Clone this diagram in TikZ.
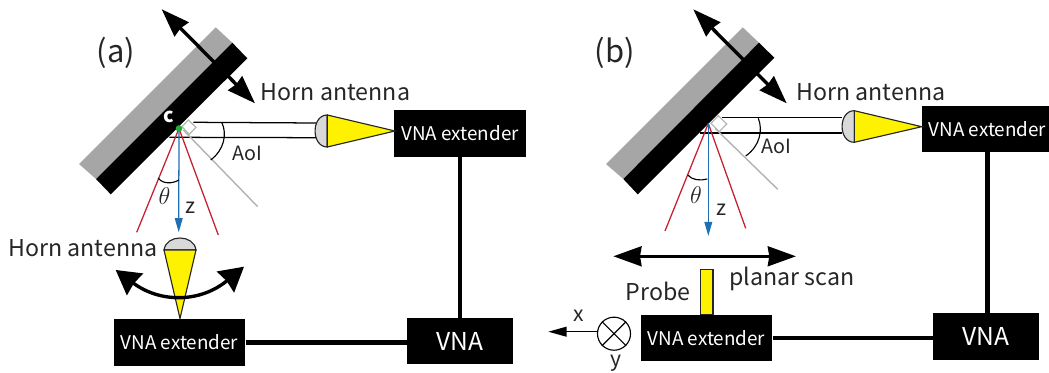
\documentclass[tikz,border=0pt]{standalone}
\usepackage{fontspec}
\setmainfont{Noto Sans CJK JP}
\usepackage{amsmath}
\usetikzlibrary{arrows.meta}

\definecolor{plategray}{HTML}{A6A6A6}
\definecolor{domegray}{HTML}{D9D9D9}
\definecolor{hornyellow}{HTML}{FFF200}
\definecolor{beamred}{HTML}{C4202F}
\definecolor{zblue}{HTML}{1F6FB5}
\definecolor{dotgreen}{HTML}{22AC38}

\tikzset{
  lab/.style={font=\fontsize{16.5}{20}\selectfont,text=black!85,inner sep=0pt},
  smalllab/.style={font=\fontsize{14}{17}\selectfont,text=black!85,inner sep=0pt},
  axislab/.style={font=\fontsize{15}{18}\selectfont,text=black!85,inner sep=0pt},
  panellab/.style={font=\fontsize{22}{26}\selectfont,text=black!85,inner sep=0pt},
  extbox/.style={fill=black,text=white,inner sep=0pt,minimum width=93.5pt,minimum height=33pt,font=\fontsize{13.4}{16}\selectfont},
  vnabox/.style={fill=black,text=white,inner sep=0pt,minimum width=75.5pt,minimum height=33pt,font=\fontsize{17.5}{21}\selectfont},
  wire/.style={line width=2.9pt},
  bigarrow/.style={line width=2.4pt,{Stealth[length=20pt,width=14pt,inset=1pt]}-{Stealth[length=20pt,width=14pt,inset=1pt]}},
  swingarrow/.style={line width=2.4pt,{Stealth[length=17pt,width=19pt,inset=1pt]}-{Stealth[length=17pt,width=19pt,inset=1pt]}},
  beam/.style={line width=.9pt},
  horn/.style={draw=black!85,line width=.8pt},
  redline/.style={draw=beamred,line width=.9pt},
  zarrow/.style={draw=zblue,line width=.9pt,-{Stealth[length=10pt,width=5.5pt,inset=0pt]}},
  grayline/.style={draw=black!30,line width=1pt},
  anglearc/.style={line width=.8pt}
}

\begin{document}
\begin{tikzpicture}[x=.025cm,y=-.025cm]
\useasboundingbox (0,0) rectangle (1049,373);

% panel a
\node[panellab] (tagA) at (116,53) {(a)};
\fill[plategray] (215.7,27.3)--(232.3,42.7)--(96,179)--(79,164)--cycle;
\coordinate (aUp) at (161.7,9.3);
\coordinate (aDown) at (255,103.3);
\draw[bigarrow] (aUp)--(aDown);
\fill[black] (232.3,42.7)--(247.3,58.3)--(110.7,194.3)--(96,179)--cycle;

\node[extbox] (extA) at (460,133.5) {VNA extender};
\node[vnabox] (vnaA) at (460,341) {VNA};
\node[extbox] (extAb) at (179.5,342.5) {VNA extender};
\draw[wire] (extA.south)--(vnaA.north);
\draw[wire] (extAb.east)--(extAb.east-|vnaA.west);

\coordinate (cA) at (179,128.5);
\draw[beam] (193.3,122.3)--(316.7,123);
\draw[beam] (169.3,137.3)--(316.7,137.7);
\draw[grayline] (183.3,130)--(257.7,206.7);
\draw[horn,fill=white,draw=black!30] (188.3,120)--(196,127.3)--(189.3,134.3)--(182,126.7)--cycle;
\draw[redline] (cA)--(136.7,232.3);
\draw[redline] (cA)--(218.3,235);
\coordinate (zA) at (178.7,232.3);
\draw[zarrow] (cA)--(zA);
\fill[dotgreen] (cA) circle (3.3);
\node[font=\fontsize{14}{16}\selectfont\bfseries,text=white,inner sep=0pt] (cLab) at (169,116.5) {c};
\draw[anglearc] (221.7,122.3) .. controls (227.5,134) and (224,150) .. (210.7,160);
\draw[anglearc] (158.3,178.3) .. controls (163,184) and (172,184) .. (179,180);
\node[smalllab] (aoiA) at (247.7,153.3) {AoI};
\node[font=\fontsize{16.5}{20}\selectfont,text=black!85,inner sep=0pt] (thetaA) at (164.5,196.5) {$\theta$};
\node[axislab] (zLabA) at (190.7,207.3) {z};

\draw[horn,fill=domegray] (327.3,115) .. controls (311,115) and (311,147) .. (327.3,147)--cycle;
\draw[horn,fill=hornyellow] (327.3,115)--(395,131)--(327.3,147)--cycle;
\node[lab] (hornA) at (335.5,92) {Horn antenna};

\draw[horn,fill=domegray] (164,250) .. controls (166,234) and (194,234) .. (196,250)--cycle;
\draw[horn,fill=hornyellow] (164,250)--(196,250)--(180,318.5)--cycle;
\node[lab] (hornAb) at (83,248) {Horn antenna};
\coordinate (swingL) at (115.7,270);
\coordinate (swingR) at (244,266.7);
\draw[swingarrow] (swingL) .. controls (160,303) and (200,303) .. (swingR);

% panel b
\node[panellab] (tagB) at (615,53) {(b)};
\fill[plategray] (742.7,27.3)--(759,42.7)--(623.3,179)--(606,164)--cycle;
\coordinate (bUp) at (693.3,9.3);
\coordinate (bDown) at (786.7,103.3);
\draw[bigarrow] (bUp)--(bDown);
\fill[black] (759,42.7)--(774.3,57.7)--(637.7,194.3)--(623.3,179)--cycle;

\node[extbox] (extB) at (987.5,129) {VNA extender};
\node[vnabox] (vnaB) at (986,336.5) {VNA};
\node[extbox] (extBb) at (706.5,338) {VNA extender};
\draw[wire] (extB.south)--(extB.south|-vnaB.north);
\draw[wire] (extBb.east)--(extBb.east-|vnaB.west);

\coordinate (cB) at (708.3,123.5);
\draw[beam] (721.7,117.7)--(841.7,117.7);
\draw[beam] (700,133)--(841.7,133);
\draw[grayline] (715,128.3)--(777.7,189.3);
\draw[horn,fill=white,draw=black!30] (718.3,115.7)--(726.7,124)--(719.3,131.7)--(711,123.3)--cycle;
\draw[redline] (cB)--(665,231);
\draw[redline] (cB)--(745.7,228.3);
\coordinate (zB) at (708.3,236);
\draw[zarrow] (cB)--(zB);
\draw[anglearc] (758.3,118.3) .. controls (763,130) and (760,146) .. (745.7,156);
\draw[anglearc] (687.7,175) .. controls (692,180) and (700,181) .. (707.3,179);
\node[smalllab] (aoiB) at (776.7,146.7) {AoI};
\node[font=\fontsize{16.5}{20}\selectfont,text=black!85,inner sep=0pt] (thetaB) at (696,195) {$\theta$};
\node[axislab] (zLabB) at (721,209.3) {z};

\draw[horn,fill=domegray] (854.3,110.7) .. controls (838,110.7) and (838,142.3) .. (854.3,142.3)--cycle;
\draw[horn,fill=hornyellow] (854.3,110.7)--(921.7,126.7)--(854.3,142.3)--cycle;
\node[lab] (hornB) at (871,92) {Horn antenna};

\coordinate (scanL) at (613.3,256.3);
\coordinate (scanR) at (796,256.3);
\draw[bigarrow] (scanL)--(scanR);
\node[lab] (scanLab) at (792,279) {planar scan};
\draw[horn,fill=hornyellow] (700.3,269.3) rectangle (713,314.7);
\node[lab] (probeLab) at (658.3,291) {Probe};

\node[draw=black,line width=.8pt,circle,minimum size=23.5pt,inner sep=0pt] (yAxis) at (614,333.7) {};
\draw[line width=.8pt] (yAxis.north west)--(yAxis.south east);
\draw[line width=.8pt] (yAxis.north east)--(yAxis.south west);
\coordinate (xEnd) at (548.3,331.7);
\draw[line width=.9pt,-{Stealth[length=13pt,width=7pt,inset=0pt]}] (yAxis.west|-xEnd)--(xEnd);
\node[axislab] (xLab) at (578.3,316) {x};
\node[axislab] (yLab) at (616,363) {y};
\end{tikzpicture}
\end{document}
